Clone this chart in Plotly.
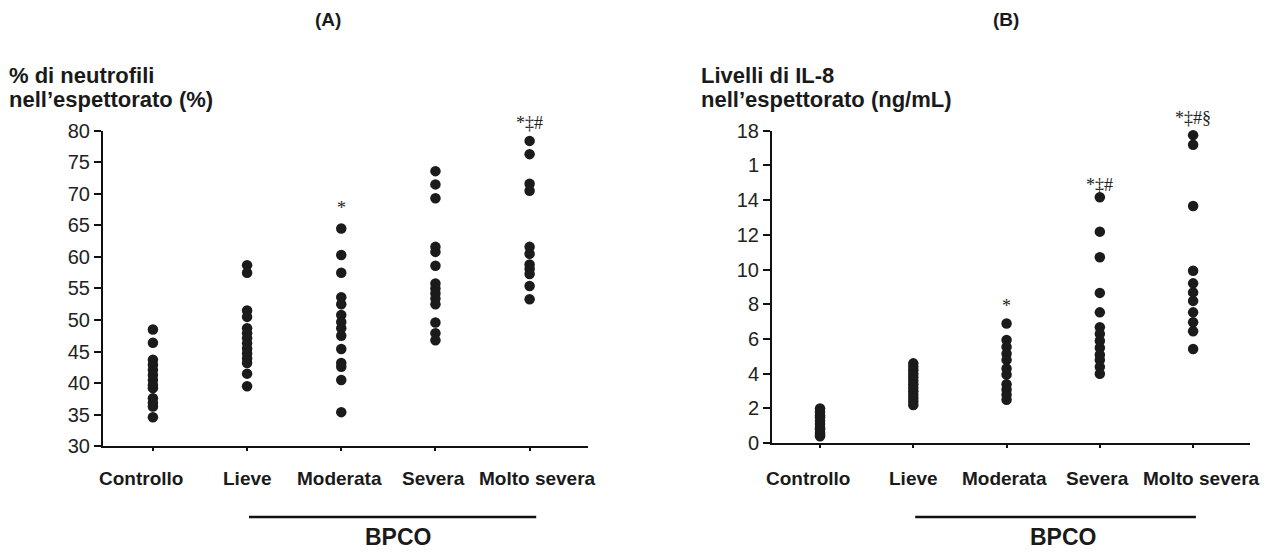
import plotly.graph_objects as go

W, H = 1271, 554

categories = ["Controllo", "Lieve", "Moderata", "Severa", "Molto severa"]

# Panel A: % neutrophils in sputum
neut_controllo = [48.5, 46.4, 43.7, 42.9, 42.1, 41.3, 40.5, 39.7, 39.2, 37.6, 36.9, 36.3, 34.6]
neut_lieve = [58.7, 57.5, 51.5, 50.5, 48.7, 47.9, 47.1, 46.3, 45.5, 44.7, 43.9, 43.2, 41.5, 39.5]
neut_moderata = [64.5, 60.3, 57.5, 53.6, 52.5, 50.8, 49.7, 48.7, 47.5, 45.4, 43.2, 42.6, 40.5, 35.4]
neut_severa = [73.6, 71.5, 69.3, 61.6, 60.8, 58.6, 55.8, 55.0, 54.2, 53.4, 52.5, 49.6, 47.9, 46.8]
neut_molto = [78.4, 76.3, 71.6, 70.5, 61.6, 60.5, 58.8, 58.1, 57.3, 55.4, 53.3]

# Panel B: IL-8 levels in sputum (ng/mL)
il8_controllo = [2.0, 1.8, 1.6, 1.5, 1.3, 1.1, 0.9, 0.8, 0.6, 0.5, 0.4]
il8_lieve = [4.6, 4.4, 4.2, 4.0, 3.8, 3.6, 3.4, 3.2, 3.0, 2.8, 2.6, 2.4, 2.2]
il8_moderata = [6.9, 5.95, 5.55, 5.15, 4.8, 4.3, 3.95, 3.4, 3.1, 2.8, 2.5]
il8_severa = [14.17, 12.19, 10.71, 8.66, 7.54, 6.68, 6.3, 5.9, 5.5, 5.1, 4.8, 4.4, 4.0]
il8_molto = [17.75, 17.2, 13.67, 9.94, 9.21, 8.69, 8.2, 7.54, 6.97, 6.45, 5.43]

yrange_a = [30, 80]
yrange_b = [0, 18]
yticks_a = [30, 35, 40, 45, 50, 55, 60, 65, 70, 75, 80]
yticks_b = [0, 2, 4, 6, 8, 10, 12, 14, 16, 18]
yticktext_b = ["0", "2", "4", "6", "8", "10", "12", "14", "1", "18"]

# significance marks: (category index, y value, text)
sig_a = [(2, 67.8, "*"), (4, 81.3, "*‡#")]
sig_b = [(2, 7.9, "*"), (3, 14.9, "*‡#"), (4, 18.75, "*‡#§")]

series_a = [neut_controllo, neut_lieve, neut_moderata, neut_severa, neut_molto]
series_b = [il8_controllo, il8_lieve, il8_moderata, il8_severa, il8_molto]

FONT = "Liberation Sans, Arial, Helvetica, sans-serif"
DOT = "#1b1b1b"
TXT = "#1a1a1a"

# category label nudges (px), as in the original typesetting
label_shift = [-12, 0, -2, -2, 8]

# page calibration (figure drawn offset/compressed by the viewer)
OX, OY, HR = 8, 18, 533


def px_x(p):
    return (p - OX) / W


def px_y(p):
    return 1 - (p - OY) / HR


fig = go.Figure()

for axis_suffix, series in (("", series_a), ("2", series_b)):
    xs, ys = [], []
    for i, vals in enumerate(series):
        xs += [i] * len(vals)
        ys += vals
    fig.add_trace(go.Scatter(
        x=xs, y=ys, mode="markers",
        marker=dict(size=10.5, color=DOT, line=dict(width=0)),
        xaxis="x" + axis_suffix, yaxis="y" + axis_suffix,
        showlegend=False, hoverinfo="skip", cliponaxis=False,
    ))

common_x = dict(
    showline=True, linecolor="#111", linewidth=2, showgrid=False, zeroline=False,
    ticks="outside", ticklen=3, tickwidth=1.5, tickcolor="#111",
    tickvals=list(range(len(categories))), showticklabels=False,
)
common_y = dict(
    showline=True, linecolor="#111", linewidth=2, showgrid=False, zeroline=False,
    ticks="outside", ticklen=7, tickwidth=1.5, tickcolor="#111",
    tickfont=dict(family=FONT, size=20, color="#222"),
)

fig.update_layout(
    width=W, height=H,
    margin=dict(l=0, r=0, t=0, b=0),
    paper_bgcolor="white", plot_bgcolor="white",
    xaxis=dict(domain=[px_x(103), px_x(588)], range=[-0.53, 4.62], anchor="y", **common_x),
    yaxis=dict(domain=[px_y(446), px_y(130)], range=yrange_a, anchor="x",
               tickvals=yticks_a, **common_y),
    xaxis2=dict(domain=[px_x(772), px_x(1250)], range=[-0.515, 4.61], anchor="y2", **common_x),
    yaxis2=dict(domain=[px_y(443), px_y(130)], range=yrange_b, anchor="x2",
                tickvals=yticks_b, ticktext=yticktext_b, **common_y),
)

ann = []
# Category labels
for xr in ("x", "x2"):
    for i, cat in enumerate(categories):
        ann.append(dict(text="<b>" + cat + "</b>", x=i, y=px_y(478), xref=xr, yref="paper",
                        xanchor="center", yanchor="middle", xshift=label_shift[i], showarrow=False,
                        font=dict(family=FONT, size=19, color=TXT)))
# Panel titles
for label, xc in (("(A)", 328), ("(B)", 1006)):
    ann.append(dict(text="<b>" + label + "</b>", x=px_x(xc), y=px_y(18), xref="paper", yref="paper",
                    xanchor="center", yanchor="middle", showarrow=False,
                    font=dict(family=FONT, size=19, color=TXT)))
# Y axis titles
for x0, l1, l2 in ((7, "% di neutrofili", "nell’espettorato (%)"),
                   (699, "Livelli di IL-8", "nell’espettorato (ng/mL)")):
    for txt, yc in ((l1, 75), (l2, 99)):
        ann.append(dict(text="<b>" + txt + "</b>", x=px_x(x0), y=px_y(yc), xref="paper", yref="paper",
                        xanchor="left", yanchor="middle", showarrow=False,
                        font=dict(family=FONT, size=22, color=TXT)))
# Significance marks
for xr, yr, rng, marks in (("x", "y domain", yrange_a, sig_a), ("x2", "y2 domain", yrange_b, sig_b)):
    for ci, yv, txt in marks:
        ann.append(dict(text=txt, x=ci, y=(yv - rng[0]) / (rng[1] - rng[0]), xref=xr, yref=yr,
                        xanchor="center", yanchor="middle", showarrow=False,
                        font=dict(family="Liberation Serif, Times New Roman, serif", size=18, color="#222")))
# BPCO groups
shapes = []
for xr, x0, x1 in (("x", 1.02, 4.07), ("x2", 1.02, 4.03)):
    shapes.append(dict(type="line", xref=xr, yref="paper", x0=x0, x1=x1,
                       y0=px_y(517), y1=px_y(517), line=dict(color="#111", width=2.5)))
    ann.append(dict(text="<b>BPCO</b>", x=2.6, y=px_y(537), xref=xr, yref="paper",
                    xanchor="center", yanchor="middle",
                    showarrow=False, font=dict(family=FONT, size=23, color=TXT)))

fig.update_layout(annotations=ann, shapes=shapes)

fig.write_html("out.html")
